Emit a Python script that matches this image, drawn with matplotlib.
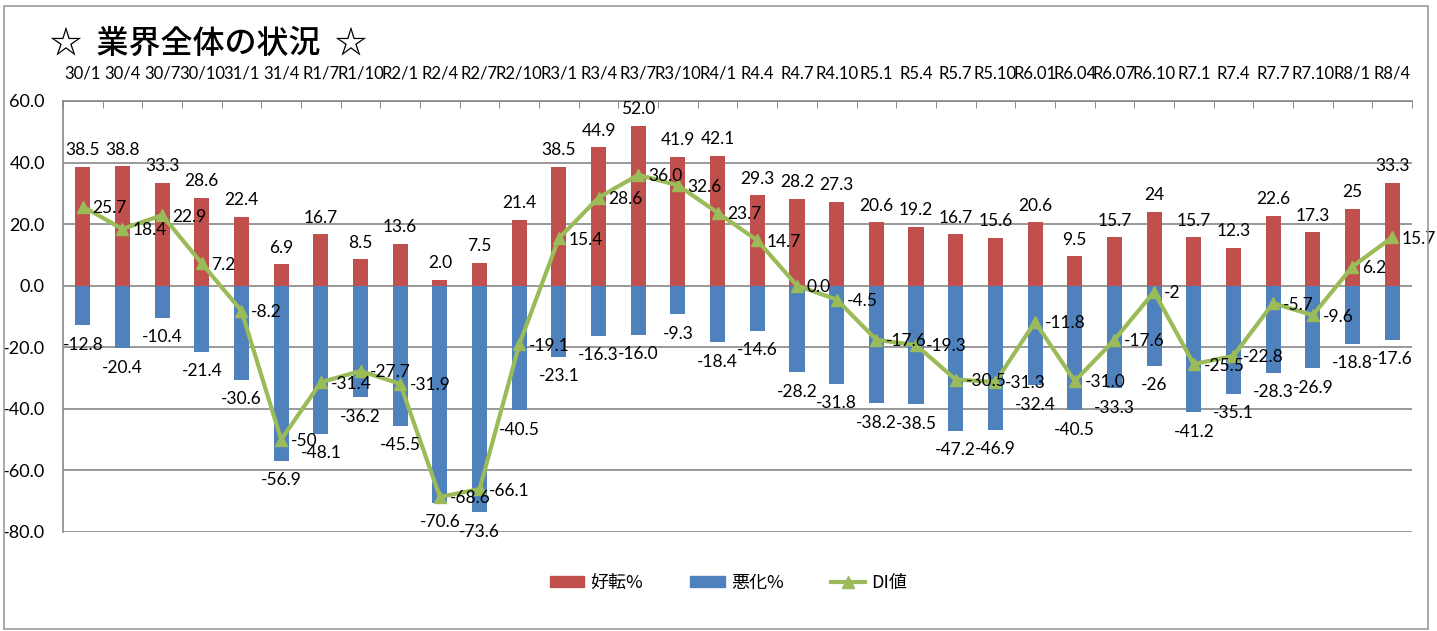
import numpy as np
import matplotlib.pyplot as plt
from matplotlib.patches import Rectangle
from matplotlib.lines import Line2D

plt.rcParams['font.family'] = ['Lato', 'Noto Sans CJK JP', 'DejaVu Sans']

periods = ["30/1", "30/4", "30/7", "30/10", "31/1", "31/4", "R1/7", "R1/10", "R2/1", "R2/4",
           "R2/7", "R2/10", "R3/1", "R3/4", "R3/7", "R3/10", "R4/1", "R4.4", "R4.7", "R4.10",
           "R5.1", "R5.4", "R5.7", "R5.10", "R6.01", "R6.04", "R6.07", "R6.10", "R7.1", "R7.4",
           "R7.7", "R7.10", "R8/1", "R8/4"]

# values as printed on the chart
good_txt = ["38.5", "38.8", "33.3", "28.6", "22.4", "6.9", "16.7", "8.5", "13.6", "2.0",
            "7.5", "21.4", "38.5", "44.9", "52.0", "41.9", "42.1", "29.3", "28.2", "27.3",
            "20.6", "19.2", "16.7", "15.6", "20.6", "9.5", "15.7", "24", "15.7", "12.3",
            "22.6", "17.3", "25", "33.3"]
bad_txt = ["-12.8", "-20.4", "-10.4", "-21.4", "-30.6", "-56.9", "-48.1", "-36.2", "-45.5", "-70.6",
           "-73.6", "-40.5", "-23.1", "-16.3", "-16.0", "-9.3", "-18.4", "-14.6", "-28.2", "-31.8",
           "-38.2", "-38.5", "-47.2", "-46.9", "-32.4", "-40.5", "-33.3", "-26", "-41.2", "-35.1",
           "-28.3", "-26.9", "-18.8", "-17.6"]
di_txt = ["25.7", "18.4", "22.9", "7.2", "-8.2", "-50", "-31.4", "-27.7", "-31.9", "-68.6",
          "-66.1", "-19.1", "15.4", "28.6", "36.0", "32.6", "23.7", "14.7", "0.0", "-4.5",
          "-17.6", "-19.3", "-30.5", "-31.3", "-11.8", "-31.0", "-17.6", "-2", "-25.5", "-22.8",
          "-5.7", "-9.6", "6.2", "15.7"]

good = [float(v) for v in good_txt]
bad = [float(v) for v in bad_txt]
di = [float(v) for v in di_txt]

red = '#c0504d'
blue = '#4f81bd'
green = '#9bbb59'

fig = plt.figure(figsize=(14.37, 6.31), dpi=100)
ax = fig.add_axes([0.0438, 0.157, 0.9388, 0.683])

x = np.arange(len(periods))
ax.bar(x, good, width=0.38, color=red, zorder=2)
ax.bar(x, bad, width=0.38, color=blue, zorder=2)
ax.plot(x, di, color=green, lw=3, marker='^', ms=9, zorder=3)

for i in range(len(x)):
    ax.annotate(good_txt[i], (x[i], good[i]), xytext=(0, 12), textcoords='offset points',
                ha='center', va='center', fontsize=12.5, zorder=4)
    ax.annotate(bad_txt[i], (x[i], bad[i]), xytext=(0, -14), textcoords='offset points',
                ha='center', va='center', fontsize=12.5, zorder=4)
    ax.annotate(di_txt[i], (x[i], di[i]), xytext=(7, -1), textcoords='offset points',
                ha='left', va='center', fontsize=12.5, zorder=4)

ax.set_xlim(-0.5, len(x) - 0.5)
ax.set_ylim(-80, 60)
ax.set_yticks(np.arange(-80, 61, 20))
ax.set_yticklabels([f"{v:.1f}" for v in np.arange(-80, 61, 20)], fontsize=13)
ax.yaxis.grid(True, color='#888888', lw=1.2, zorder=0)
ax.tick_params(axis='y', length=0, pad=13)

ax.xaxis.tick_top()
ax.set_xticks(x)
ax.set_xticklabels(periods, fontsize=12)
ax.set_xticks(np.arange(-0.5, len(x), 1), minor=True)
ax.tick_params(axis='x', which='major', length=0, pad=14)
ax.tick_params(axis='x', which='minor', length=5, direction='in', color='#777777', top=True)

for s in ['right', 'bottom']:
    ax.spines[s].set_visible(False)
for s in ['left', 'top']:
    ax.spines[s].set_color('#888888')
    ax.spines[s].set_linewidth(1.2)

fig.text(0.035, 0.93, "☆  業界全体の状況  ☆", fontsize=23, fontweight='medium',
         family=['Noto Sans CJK JP', 'DejaVu Sans'], va='center')

handles = [Rectangle((0, 0), 1, 1, color=red), Rectangle((0, 0), 1, 1, color=blue),
           Line2D([], [], color=green, lw=3, marker='^', ms=9)]
fig.legend(handles, ["好転%", "悪化%", "DI値"], loc='center', bbox_to_anchor=(0.507, 0.076),
           ncol=3, frameon=False, handlelength=1.9, handleheight=0.5, handletextpad=0.35,
           columnspacing=2.6, prop={'family': ['Noto Sans CJK JP', 'DejaVu Sans'], 'size': 13})

fig.add_artist(Rectangle((0.003, 0.003), 0.991, 0.988, transform=fig.transFigure,
                         fill=False, edgecolor='#999999', lw=1.2))

fig.savefig('out.png', dpi=100)
